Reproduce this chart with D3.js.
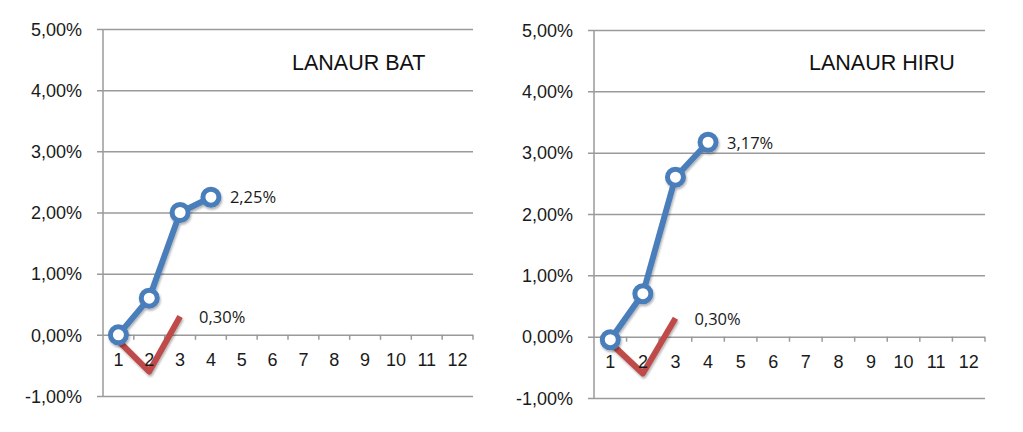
<!DOCTYPE html>
<html>
<head>
<meta charset="utf-8">
<script src="https://cdn.jsdelivr.net/npm/d3@7"></script>
<style>
  body { margin: 0; background: #fff; }
  svg { display: block; }
</style>
</head>
<body>
<div id="chart"></div>
<script>
// chart data
var categories = ["1", "2", "3", "4", "5", "6", "7", "8", "9", "10", "11", "12"];
var yTicks = [-0.01, 0, 0.01, 0.02, 0.03, 0.04, 0.05];
var titles = ["LANAUR BAT", "LANAUR HIRU"];
var batBlue = [0, 0.006, 0.02, 0.0225];
var batRed = [-0.001, -0.006, 0.003];
var hiruBlue = [-0.0005, 0.007, 0.026, 0.0317];
var hiruRed = [-0.001, -0.006, 0.003];

// panel placement
var panels = [
  {left: 103, right: 473, top: 29, bottom: 396, titleX: 292, blue: batBlue, red: batRed},
  {left: 594, right: 985, top: 30, bottom: 398, titleX: 809, blue: hiruBlue, red: hiruRed}
];

var blue = "#4a7ebb", red = "#be4b48", grid = "#9a9a9a";

var locale = d3.formatLocale({decimal: ",", thousands: ".", grouping: [3], currency: ["", "€"], minus: "-"});
var pct = locale.format(".2%");

var svg = d3.select("#chart").append("svg")
  .attr("width", 1023)
  .attr("height", 432);

svg.append("rect").attr("width", 1023).attr("height", 432).attr("fill", "#fff");

var filt = svg.append("defs").append("filter")
  .attr("id", "shadow")
  .attr("x", "-20%").attr("y", "-20%")
  .attr("width", "140%").attr("height", "140%");
filt.append("feDropShadow")
  .attr("dx", 1).attr("dy", 2)
  .attr("stdDeviation", 1.3)
  .attr("flood-color", "#000")
  .attr("flood-opacity", 0.3);

panels.forEach(function (p, k) {
  var g = svg.append("g");

  var x = d3.scaleBand()
    .domain(categories)
    .range([p.left, p.right])
    .padding(0);

  var y = d3.scaleLinear()
    .domain([-0.01, 0.05])
    .range([p.bottom, p.top]);

  // gridlines + y labels
  var yAxis = d3.axisLeft(y)
    .tickValues(yTicks)
    .tickSize(0)
    .tickFormat(pct);

  var ya = g.append("g")
    .attr("transform", "translate(" + (p.left - 6) + ",0)")
    .call(yAxis);
  ya.select(".domain").remove();
  ya.selectAll(".tick line")
    .attr("x1", 0)
    .attr("x2", p.right - p.left + 6)
    .attr("stroke", grid)
    .attr("stroke-width", 1.5);
  ya.selectAll(".tick text")
    .attr("x", -15)
    .attr("dy", "0.35em")
    .attr("fill", "#1a1a1a")
    .style("font-family", "'Liberation Sans', Arial, sans-serif")
    .style("font-size", "18px");

  // vertical axis line
  g.append("line")
    .attr("x1", p.left).attr("x2", p.left)
    .attr("y1", y(0.05)).attr("y2", y(-0.01))
    .attr("stroke", grid)
    .attr("stroke-width", 1.5);

  // ticks at band edges
  var edges = categories.map(function (c) { return x(c) + x.bandwidth(); });
  g.selectAll(".edge")
    .data(edges)
    .enter().append("line")
    .attr("x1", function (d) { return d; })
    .attr("x2", function (d) { return d; })
    .attr("y1", y(0))
    .attr("y2", y(0) + 5)
    .attr("stroke", grid)
    .attr("stroke-width", 1.5);

  // title
  g.append("text")
    .attr("x", p.titleX)
    .attr("y", 70)
    .attr("fill", "#111")
    .style("font-family", "'Liberation Sans', Arial, sans-serif")
    .style("font-size", "21.5px")
    .text(titles[k]);

  var line = d3.line()
    .x(function (d, i) { return x(categories[i]) + x.bandwidth() / 2; })
    .y(function (d) { return y(d); });

  // red series
  g.append("path")
    .datum(p.red)
    .attr("d", line)
    .attr("fill", "none")
    .attr("stroke", red)
    .attr("stroke-width", 6)
    .attr("stroke-linejoin", "round")
    .attr("filter", "url(#shadow)");

  // blue series
  var bg = g.append("g").attr("filter", "url(#shadow)");
  bg.append("path")
    .datum(p.blue)
    .attr("d", line)
    .attr("fill", "none")
    .attr("stroke", blue)
    .attr("stroke-width", 6)
    .attr("stroke-linejoin", "round");
  bg.selectAll("circle")
    .data(p.blue)
    .enter().append("circle")
    .attr("cx", function (d, i) { return x(categories[i]) + x.bandwidth() / 2; })
    .attr("cy", function (d) { return y(d); })
    .attr("r", 8)
    .attr("fill", "#fff")
    .attr("stroke", blue)
    .attr("stroke-width", 5);

  // category labels drawn over the lines
  var xAxis = d3.axisBottom(x)
    .tickSize(0)
    .tickPadding(0);
  var xa = g.append("g")
    .attr("transform", "translate(0," + y(0) + ")")
    .call(xAxis);
  xa.select(".domain").remove();
  xa.selectAll(".tick text")
    .attr("y", 31.5)
    .attr("dy", 0)
    .attr("fill", "#1a1a1a")
    .style("font-family", "'Liberation Sans', Arial, sans-serif")
    .style("font-size", "18px");

  // end labels
  [p.blue, p.red].forEach(function (s) {
    var i = s.length - 1;
    g.append("text")
      .attr("x", x(categories[i]) + x.bandwidth() / 2 + 19)
      .attr("y", y(s[i]))
      .attr("dy", "0.38em")
      .attr("fill", "#1a1a1a")
      .style("font-family", "'Open Sans', sans-serif")
      .style("font-size", "16.5px")
      .text(pct(s[i]));
  });
});
</script>
</body>
</html>
